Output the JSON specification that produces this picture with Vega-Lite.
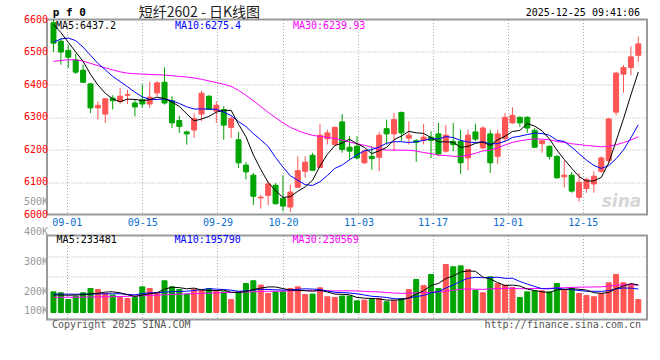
{
  "$schema": "https://vega.github.io/schema/vega-lite/v6.json",
  "autosize": {"type": "pad"},
  "padding": {"left": 22, "top": 4.5, "right": 0, "bottom": 0},
  "background": "white",
  "spacing": 21,
  "bounds": "flush",
  "config": {
    "view": {"stroke": "#9a9a9a", "strokeWidth": 2},
    "axis": {"gridColor": "#a8a8a8", "gridDash": [1, 2], "gridWidth": 1, "ticks": false, "domain": false, "labelFont": "DejaVu Sans Mono", "labelFontSize": 10, "title": null},
    "text": {"font": "DejaVu Sans Mono", "fontSize": 10}
  },
  "datasets": {
    "k": [
      {"i":0,"o":6590,"h":6600,"l":6500,"c":6527,"v":177000,"m5":6585,"m10":6530,"m30":6471,"v5":150000,"v10":158000,"v30":130000},
      {"i":1,"o":6533,"h":6543,"l":6461,"c":6500,"v":169000,"m5":6560,"m10":6540,"m30":6474,"v5":150000,"v10":158000,"v30":130000},
      {"i":2,"o":6505,"h":6522,"l":6451,"c":6484,"v":111000,"m5":6530,"m10":6543,"m30":6476,"v5":148000,"v10":157000,"v30":131000},
      {"i":3,"o":6476,"h":6494,"l":6432,"c":6438,"v":141000,"m5":6500,"m10":6535,"m30":6476,"v5":150000,"v10":157000,"v30":131000},
      {"i":4,"o":6444,"h":6461,"l":6405,"c":6407,"v":169000,"m5":6471.2,"m10":6515,"m30":6472,"v5":153000,"v10":157000,"v30":132000},
      {"i":5,"o":6402,"h":6405,"l":6312,"c":6328,"v":206000,"m5":6431.4,"m10":6490,"m30":6465,"v5":159000,"v10":158000,"v30":133000},
      {"i":6,"o":6328,"h":6348,"l":6292,"c":6336,"v":197000,"m5":6398.6,"m10":6465,"m30":6458,"v5":165000,"v10":159000,"v30":134000},
      {"i":7,"o":6309,"h":6358,"l":6282,"c":6356,"v":163000,"m5":6373,"m10":6445,"m30":6451,"v5":175000,"v10":160000,"v30":135000},
      {"i":8,"o":6358,"h":6367,"l":6323,"c":6350,"v":149000,"m5":6355.4,"m10":6425,"m30":6445,"v5":177000,"v10":160000,"v30":136000},
      {"i":9,"o":6348,"h":6389,"l":6340,"c":6364,"v":129000,"m5":6346.8,"m10":6409,"m30":6439,"v5":169000,"v10":161000,"v30":137000},
      {"i":10,"o":6367,"h":6384,"l":6340,"c":6369,"v":120000,"m5":6355,"m10":6393.2,"m30":6435,"v5":152000,"v10":155000,"v30":139000},
      {"i":11,"o":6343,"h":6353,"l":6302,"c":6331,"v":129000,"m5":6354,"m10":6376.3,"m30":6433,"v5":138000,"v10":151000,"v30":141000},
      {"i":12,"o":6353,"h":6400,"l":6328,"c":6340,"v":220000,"m5":6350.8,"m10":6361.9,"m30":6432,"v5":149000,"v10":162000,"v30":143000},
      {"i":13,"o":6340,"h":6408,"l":6328,"c":6361,"v":206000,"m5":6353,"m10":6354.2,"m30":6431,"v5":161000,"v10":169000,"v30":146000},
      {"i":14,"o":6374,"h":6410,"l":6364,"c":6405,"v":169000,"m5":6361.2,"m10":6354,"m30":6430,"v5":169000,"v10":169000,"v30":149000},
      {"i":15,"o":6407,"h":6453,"l":6338,"c":6343,"v":272000,"m5":6356,"m10":6355.5,"m30":6429,"v5":199000,"v10":175000,"v30":152000},
      {"i":16,"o":6350,"h":6364,"l":6266,"c":6282,"v":220000,"m5":6346.2,"m10":6350.1,"m30":6427,"v5":217000,"v10":178000,"v30":155000},
      {"i":17,"o":6289,"h":6304,"l":6251,"c":6271,"v":197000,"m5":6332.4,"m10":6341.6,"m30":6425,"v5":213000,"v10":181000,"v30":158000},
      {"i":18,"o":6254,"h":6258,"l":6215,"c":6248,"v":158000,"m5":6309.8,"m10":6331.4,"m30":6423,"v5":203000,"v10":182000,"v30":160000},
      {"i":19,"o":6260,"h":6312,"l":6236,"c":6295,"v":197000,"m5":6287.8,"m10":6324.5,"m30":6420,"v5":209000,"v10":189000,"v30":162000},
      {"i":20,"o":6309,"h":6381,"l":6287,"c":6373,"v":192000,"m5":6293.8,"m10":6324.9,"m30":6416,"v5":193000,"v10":196000,"v30":164000},
      {"i":21,"o":6364,"h":6367,"l":6321,"c":6323,"v":206000,"m5":6302,"m10":6324.1,"m30":6411,"v5":190000,"v10":204000,"v30":166000},
      {"i":22,"o":6318,"h":6348,"l":6282,"c":6336,"v":186000,"m5":6315,"m10":6323.7,"m30":6406,"v5":188000,"v10":200000,"v30":168000},
      {"i":23,"o":6323,"h":6333,"l":6230,"c":6275,"v":177000,"m5":6320.4,"m10":6315.1,"m30":6401,"v5":192000,"v10":197000,"v30":170000},
      {"i":24,"o":6268,"h":6302,"l":6236,"c":6295,"v":111000,"m5":6320.4,"m10":6304.1,"m30":6394,"v5":174000,"v10":192000,"v30":172000},
      {"i":25,"o":6230,"h":6254,"l":6143,"c":6159,"v":177000,"m5":6277.6,"m10":6285.7,"m30":6382,"v5":171000,"v10":182000,"v30":174000},
      {"i":26,"o":6152,"h":6161,"l":6108,"c":6131,"v":249000,"m5":6239.2,"m10":6270.6,"m30":6367,"v5":180000,"v10":185000,"v30":176000},
      {"i":27,"o":6121,"h":6128,"l":6029,"c":6056,"v":272000,"m5":6183.2,"m10":6249.1,"m30":6350,"v5":197000,"v10":193000,"v30":178000},
      {"i":28,"o":6051,"h":6061,"l":6018,"c":6053,"v":235000,"m5":6138.8,"m10":6229.6,"m30":6332,"v5":209000,"v10":200000,"v30":180000},
      {"i":29,"o":6059,"h":6102,"l":6029,"c":6094,"v":163000,"m5":6098.6,"m10":6209.5,"m30":6314.3,"v5":219000,"v10":197000,"v30":182000},
      {"i":30,"o":6090,"h":6097,"l":6031,"c":6033,"v":177000,"m5":6073.4,"m10":6175.5,"m30":6297.9,"v5":219000,"v10":195000,"v30":182000},
      {"i":31,"o":6049,"h":6121,"l":6010,"c":6026,"v":177000,"m5":6052.4,"m10":6145.8,"m30":6282.1,"v5":205000,"v10":192000,"v30":183000},
      {"i":32,"o":6023,"h":6092,"l":6008,"c":6069,"v":206000,"m5":6055,"m10":6119.1,"m30":6268.2,"v5":192000,"v10":194000,"v30":186000},
      {"i":33,"o":6084,"h":6179,"l":6082,"c":6135,"v":220000,"m5":6071.4,"m10":6105.1,"m30":6258.1,"v5":189000,"v10":199000,"v30":188000},
      {"i":34,"o":6133,"h":6179,"l":6113,"c":6161,"v":154000,"m5":6084.8,"m10":6091.7,"m30":6249.9,"v5":187000,"v10":203000,"v30":188000},
      {"i":35,"o":6182,"h":6190,"l":6135,"c":6136,"v":158000,"m5":6105.4,"m10":6089.4,"m30":6243.5,"v5":183000,"v10":201000,"v30":186000},
      {"i":36,"o":6145,"h":6279,"l":6145,"c":6244,"v":212000,"m5":6149,"m10":6100.7,"m30":6240.5,"v5":190000,"v10":197000,"v30":187000},
      {"i":37,"o":6233,"h":6261,"l":6215,"c":6251,"v":135000,"m5":6185.4,"m10":6120.2,"m30":6237,"v5":176000,"v10":184000,"v30":186000},
      {"i":38,"o":6215,"h":6271,"l":6212,"c":6268,"v":129000,"m5":6212,"m10":6141.7,"m30":6234.2,"v5":158000,"v10":173000,"v30":185000},
      {"i":39,"o":6285,"h":6309,"l":6190,"c":6200,"v":141000,"m5":6219.8,"m10":6152.3,"m30":6228.8,"v5":155000,"v10":171000,"v30":186000},
      {"i":40,"o":6207,"h":6241,"l":6169,"c":6195,"v":141000,"m5":6231.6,"m10":6168.5,"m30":6223,"v5":152000,"v10":167000,"v30":186000},
      {"i":41,"o":6210,"h":6241,"l":6169,"c":6174,"v":100000,"m5":6217.6,"m10":6183.3,"m30":6217.7,"v5":129000,"v10":160000,"v30":185000},
      {"i":42,"o":6159,"h":6200,"l":6156,"c":6195,"v":106000,"m5":6206.4,"m10":6195.9,"m30":6212.9,"v5":123000,"v10":150000,"v30":181000},
      {"i":43,"o":6179,"h":6210,"l":6138,"c":6172,"v":111000,"m5":6187.2,"m10":6199.6,"m30":6206.6,"v5":120000,"v10":139000,"v30":178000},
      {"i":44,"o":6176,"h":6254,"l":6133,"c":6244,"v":120000,"m5":6196,"m10":6207.9,"m30":6201.2,"v5":116000,"v10":135000,"v30":177000},
      {"i":45,"o":6264,"h":6292,"l":6215,"c":6248,"v":92000,"m5":6206.6,"m10":6219.1,"m30":6198.1,"v5":106000,"v10":129000,"v30":171000},
      {"i":46,"o":6248,"h":6312,"l":6195,"c":6292,"v":100000,"m5":6230.2,"m10":6223.9,"m30":6198.4,"v5":106000,"v10":118000,"v30":167000},
      {"i":47,"o":6314,"h":6317,"l":6225,"c":6251,"v":120000,"m5":6241.4,"m10":6223.9,"m30":6197.7,"v5":109000,"v10":116000,"v30":164000},
      {"i":48,"o":6235,"h":6287,"l":6215,"c":6244,"v":197000,"m5":6255.8,"m10":6221.5,"m30":6197.6,"v5":126000,"v10":123000,"v30":165000},
      {"i":49,"o":6227,"h":6232,"l":6162,"c":6222,"v":283000,"m5":6251.4,"m10":6223.7,"m30":6195.2,"v5":158000,"v10":137000,"v30":168000},
      {"i":50,"o":6228,"h":6279,"l":6216,"c":6238,"v":231000,"m5":6249.4,"m10":6228,"m30":6190.7,"v5":186000,"v10":146000,"v30":170000},
      {"i":51,"o":6238,"h":6256,"l":6174,"c":6228,"v":326000,"m5":6236.6,"m10":6233.4,"m30":6187.5,"v5":231000,"v10":169000,"v30":174000},
      {"i":52,"o":6248,"h":6282,"l":6181,"c":6186,"v":206000,"m5":6223.6,"m10":6232.5,"m30":6182.5,"v5":249000,"v10":179000,"v30":174000},
      {"i":53,"o":6195,"h":6275,"l":6190,"c":6244,"v":411000,"m5":6223.6,"m10":6239.7,"m30":6181.5,"v5":291000,"v10":209000,"v30":182000},
      {"i":54,"o":6225,"h":6282,"l":6195,"c":6215,"v":392000,"m5":6222.2,"m10":6236.8,"m30":6178.8,"v5":313000,"v10":236000,"v30":191000},
      {"i":55,"o":6225,"h":6261,"l":6125,"c":6159,"v":400000,"m5":6206.4,"m10":6227.9,"m30":6178.8,"v5":347000,"v10":267000,"v30":199000},
      {"i":56,"o":6174,"h":6261,"l":6136,"c":6244,"v":369000,"m5":6209.6,"m10":6223.1,"m30":6182.6,"v5":356000,"v10":294000,"v30":203000},
      {"i":57,"o":6254,"h":6279,"l":6225,"c":6232,"v":192000,"m5":6218.8,"m10":6221.2,"m30":6188.4,"v5":353000,"v10":301000,"v30":200000},
      {"i":58,"o":6205,"h":6272,"l":6200,"c":6266,"v":169000,"m5":6223.2,"m10":6223.4,"m30":6195.5,"v5":304000,"v10":298000,"v30":198000},
      {"i":59,"o":6248,"h":6261,"l":6128,"c":6159,"v":306000,"m5":6212,"m10":6217.1,"m30":6197.7,"v5":287000,"v10":300000,"v30":203000},
      {"i":60,"o":6179,"h":6261,"l":6156,"c":6248,"v":249000,"m5":6229.8,"m10":6218.1,"m30":6204.9,"v5":257000,"v10":302000,"v30":205000},
      {"i":61,"o":6234,"h":6312,"l":6225,"c":6299,"v":235000,"m5":6240.8,"m10":6225.2,"m30":6214,"v5":230000,"v10":293000,"v30":207000},
      {"i":62,"o":6282,"h":6330,"l":6279,"c":6305,"v":214000,"m5":6255.4,"m10":6237.1,"m30":6221.8,"v5":235000,"v10":294000,"v30":207000},
      {"i":63,"o":6299,"h":6302,"l":6270,"c":6282,"v":129000,"m5":6258.6,"m10":6240.9,"m30":6226.7,"v5":227000,"v10":266000,"v30":204000},
      {"i":64,"o":6299,"h":6302,"l":6251,"c":6266,"v":177000,"m5":6280,"m10":6246,"m30":6230.2,"v5":201000,"v10":244000,"v30":205000},
      {"i":65,"o":6259,"h":6266,"l":6205,"c":6207,"v":186000,"m5":6271.8,"m10":6250.8,"m30":6232.6,"v5":188000,"v10":223000,"v30":206000},
      {"i":66,"o":6218,"h":6227,"l":6190,"c":6227,"v":186000,"m5":6257.4,"m10":6249.1,"m30":6232,"v5":178000,"v10":204000,"v30":205000},
      {"i":67,"o":6210,"h":6213,"l":6169,"c":6179,"v":177000,"m5":6232.2,"m10":6243.8,"m30":6229.6,"v5":171000,"v10":203000,"v30":207000},
      {"i":68,"o":6179,"h":6182,"l":6110,"c":6113,"v":249000,"m5":6198.4,"m10":6228.5,"m30":6224.5,"v5":195000,"v10":211000,"v30":211000},
      {"i":69,"o":6116,"h":6166,"l":6084,"c":6121,"v":192000,"m5":6169.4,"m10":6224.7,"m30":6221.8,"v5":198000,"v10":199000,"v30":212000},
      {"i":70,"o":6121,"h":6131,"l":6067,"c":6072,"v":212000,"m5":6142.4,"m10":6207.1,"m30":6217.7,"v5":203000,"v10":196000,"v30":215000},
      {"i":71,"o":6053,"h":6128,"l":6039,"c":6099,"v":163000,"m5":6116.8,"m10":6187.1,"m30":6215.2,"v5":199000,"v10":189000,"v30":217000},
      {"i":72,"o":6080,"h":6113,"l":6067,"c":6108,"v":146000,"m5":6102.6,"m10":6167.4,"m30":6212.3,"v5":192000,"v10":182000,"v30":218000},
      {"i":73,"o":6094,"h":6133,"l":6067,"c":6118,"v":135000,"m5":6103.6,"m10":6151,"m30":6210.5,"v5":170000,"v10":182000,"v30":219000},
      {"i":74,"o":6133,"h":6179,"l":6128,"c":6174,"v":163000,"m5":6114.2,"m10":6141.8,"m30":6208.2,"v5":164000,"v10":181000,"v30":220000},
      {"i":75,"o":6166,"h":6297,"l":6160,"c":6294,"v":255000,"m5":6158.6,"m10":6150.5,"m30":6209.7,"v5":172000,"v10":188000,"v30":226000},
      {"i":76,"o":6315,"h":6438,"l":6305,"c":6435,"v":326000,"m5":6225.8,"m10":6171.3,"m30":6214.5,"v5":205000,"v10":202000,"v30":233000},
      {"i":77,"o":6432,"h":6460,"l":6375,"c":6452,"v":255000,"m5":6294.6,"m10":6198.6,"m30":6221.2,"v5":227000,"v10":210000,"v30":238000},
      {"i":78,"o":6452,"h":6518,"l":6428,"c":6485,"v":240000,"m5":6368,"m10":6235.8,"m30":6229.2,"v5":248000,"v10":209000,"v30":239000},
      {"i":79,"o":6490,"h":6548,"l":6470,"c":6525,"v":111000,"m5":6438.2,"m10":6276.2,"m30":6239.3,"v5":237000,"v10":201000,"v30":233000}
    ]
  },
  "vconcat": [
    {
      "width": 600,
      "height": 195,
      "data": {"name": "k"},
      "layer": [
        {
          "mark": {"type": "rule", "strokeWidth": 1},
          "encoding": {
            "x": {"field": "i", "type": "quantitative", "scale": {"domain": [-0.2, 79.5], "nice": false, "zero": false},
              "axis": {"values": [1.8, 12, 22.15, 31, 41.2, 51.2, 61.35, 71.5], "labelExpr": "['09-01','09-15','09-29','10-20','11-03','11-17','12-01','12-15'][indexof([1.8,12,22.15,31,41.2,51.2,61.35,71.5], datum.value)]", "grid": true, "labelColor": "#0a6ecf", "labelPadding": 3, "labelFlush": false, "labelOverlap": false}},
            "y": {"field": "l", "type": "quantitative", "scale": {"domain": [6000, 6600], "nice": false, "zero": false},
              "axis": {"values": [6100, 6200, 6300, 6400, 6500], "labels": false, "grid": true}},
            "y2": {"field": "h"},
            "color": {"condition": {"test": "datum.c >= datum.o", "value": "#ff5555"}, "value": "#00a400"}
          }
        },
        {
          "mark": {"type": "bar", "size": 5, "strokeWidth": 1},
          "encoding": {
            "x": {"field": "i", "type": "quantitative"},
            "y": {"field": "o", "type": "quantitative"},
            "y2": {"field": "c"},
            "color": {"condition": {"test": "datum.c >= datum.o", "value": "#ff5555"}, "value": "#00a400"},
            "stroke": {"condition": {"test": "datum.c >= datum.o", "value": "#ff5555"}, "value": "#00a400"}
          }
        },
        {"mark": {"type": "line", "color": "#ff00ff", "strokeWidth": 1}, "encoding": {"x": {"field": "i", "type": "quantitative"}, "y": {"field": "m30", "type": "quantitative"}}},
        {"mark": {"type": "line", "color": "#0000ff", "strokeWidth": 1}, "encoding": {"x": {"field": "i", "type": "quantitative"}, "y": {"field": "m10", "type": "quantitative"}}},
        {"mark": {"type": "line", "color": "#000000", "strokeWidth": 1}, "encoding": {"x": {"field": "i", "type": "quantitative"}, "y": {"field": "m5", "type": "quantitative"}}},
        {"data": {"values": [{"p": 6000}, {"p": 6100}, {"p": 6200}, {"p": 6300}, {"p": 6400}, {"p": 6500}, {"p": 6600}]},
          "mark": {"type": "text", "align": "right", "baseline": "middle", "dx": -4, "color": "#ff0000"},
          "encoding": {"x": {"datum": -0.2}, "y": {"field": "p", "type": "quantitative"}, "text": {"field": "p", "type": "quantitative", "format": "d"}}},
        {"data": {"values": [{}]}, "mark": {"type": "text", "text": "sina", "align": "right", "baseline": "middle", "font": "DejaVu Sans", "fontSize": 17, "fontWeight": "bold", "fontStyle": "italic", "color": "#d6d6d6"},
          "encoding": {"x": {"datum": 79.4}, "y": {"datum": 6037}}},
        {"data": {"values": [{}]}, "mark": {"type": "text", "text": "MA5:6437.2", "align": "left", "baseline": "middle", "color": "#000000"},
          "encoding": {"x": {"datum": 0.33}, "y": {"datum": 6581.5}}},
        {"data": {"values": [{}]}, "mark": {"type": "text", "text": "MA10:6275.4", "align": "left", "baseline": "middle", "color": "#0000ff"},
          "encoding": {"x": {"datum": 16.4}, "y": {"datum": 6581.5}}},
        {"data": {"values": [{}]}, "mark": {"type": "text", "text": "MA30:6239.93", "align": "left", "baseline": "middle", "color": "#ff00ff"},
          "encoding": {"x": {"datum": 32.35}, "y": {"datum": 6581.5}}},
        {"data": {"values": [{}]}, "mark": {"type": "text", "text": "p f 0", "align": "left", "baseline": "middle", "fontSize": 11, "fontWeight": "bold", "color": "#000000"},
          "encoding": {"x": {"datum": -0.1}, "y": {"datum": 6621.5}}},
        {"data": {"values": [{}]}, "mark": {"type": "text", "text": "短纤2602 - 日K线图", "align": "center", "baseline": "middle", "font": "Noto Sans CJK SC", "fontSize": 14, "color": "#222222"},
          "encoding": {"x": {"datum": 19.7}, "y": {"datum": 6621.5}}},
        {"data": {"values": [{}]}, "mark": {"type": "text", "text": "2025-12-25 09:41:06", "align": "right", "baseline": "middle", "color": "#000000"},
          "encoding": {"x": {"datum": 79.24}, "y": {"datum": 6621.5}}}
      ]
    },
    {
      "width": 600,
      "height": 84,
      "data": {"name": "k"},
      "layer": [
        {
          "mark": {"type": "bar", "size": 5, "strokeWidth": 1},
          "encoding": {
            "x": {"field": "i", "type": "quantitative", "scale": {"domain": [-0.2, 79.5], "nice": false, "zero": false},
              "axis": {"values": [1.8, 12, 22.15, 31, 41.2, 51.2, 61.35, 71.5], "labels": false, "grid": true}},
            "y": {"field": "v", "type": "quantitative", "scale": {"domain": [-60000, 660000], "nice": false, "zero": false},
              "axis": {"values": [308600, 480000], "labels": false, "grid": true}},
            "y2": {"datum": 0},
            "color": {"condition": {"test": "datum.c >= datum.o", "value": "#ff5555"}, "value": "#00a400"},
            "stroke": {"condition": {"test": "datum.c >= datum.o", "value": "#ff5555"}, "value": "#00a400"}
          }
        },
        {"mark": {"type": "line", "color": "#ff00ff", "strokeWidth": 1}, "encoding": {"x": {"field": "i", "type": "quantitative"}, "y": {"field": "v30", "type": "quantitative"}}},
        {"mark": {"type": "line", "color": "#0000ff", "strokeWidth": 1}, "encoding": {"x": {"field": "i", "type": "quantitative"}, "y": {"field": "v10", "type": "quantitative"}}},
        {"mark": {"type": "line", "color": "#000000", "strokeWidth": 1}, "encoding": {"x": {"field": "i", "type": "quantitative"}, "y": {"field": "v5", "type": "quantitative"}}},
        {"data": {"values": [{"t": "500K", "v": 945000}, {"t": "400K", "v": 688000}, {"t": "300K", "v": 431000}, {"t": "200K", "v": 180000}, {"t": "100K", "v": 14600}]},
          "mark": {"type": "text", "align": "right", "baseline": "middle", "dx": -4, "color": "#999999"},
          "encoding": {"x": {"datum": -0.2}, "y": {"field": "v", "type": "quantitative"}, "text": {"field": "t"}}},
        {"data": {"values": [{}]}, "mark": {"type": "text", "text": "MA5:233481", "align": "left", "baseline": "middle", "color": "#000000"},
          "encoding": {"x": {"datum": 0.42}, "y": {"datum": 620000}}},
        {"data": {"values": [{}]}, "mark": {"type": "text", "text": "MA10:195790", "align": "left", "baseline": "middle", "color": "#0000ff"},
          "encoding": {"x": {"datum": 16.36}, "y": {"datum": 620000}}},
        {"data": {"values": [{}]}, "mark": {"type": "text", "text": "MA30:230569", "align": "left", "baseline": "middle", "color": "#ff00ff"},
          "encoding": {"x": {"datum": 32.3}, "y": {"datum": 620000}}},
        {"data": {"values": [{}]}, "mark": {"type": "text", "text": "Copyright 2025 SINA.COM", "align": "left", "baseline": "middle", "color": "#555555"},
          "encoding": {"x": {"datum": -0.2}, "y": {"datum": -103000}}},
        {"data": {"values": [{}]}, "mark": {"type": "text", "text": "http://finance.sina.com.cn", "align": "right", "baseline": "middle", "color": "#555555"},
          "encoding": {"x": {"datum": 79.37}, "y": {"datum": -103000}}}
      ]
    }
  ]
}
